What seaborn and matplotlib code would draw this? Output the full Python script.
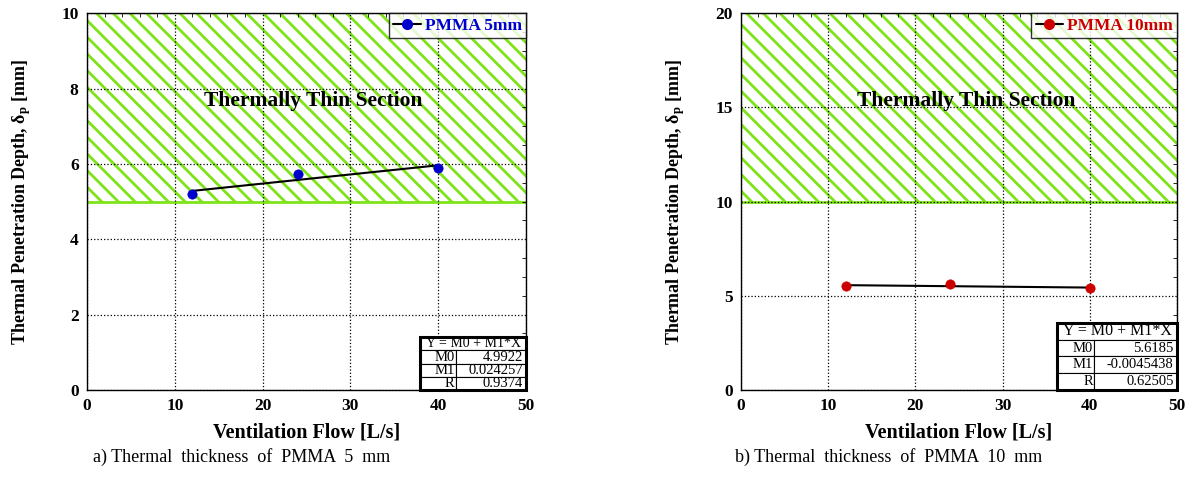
import numpy as np
import pandas as pd
import matplotlib
matplotlib.use("Agg")
import matplotlib.pyplot as plt
from matplotlib.lines import Line2D
from matplotlib.patches import Rectangle
from matplotlib.ticker import MultipleLocator
import seaborn as sns

# ---- data ----
flow = [12, 24, 40]
depth_5mm = [5.20, 5.73, 5.89]
depth_10mm = [5.52, 5.62, 5.41]
fit_5mm = {"M0": "4.9922", "M1": "0.024257", "R": "0.9374"}
fit_10mm = {"M0": "5.6185", "M1": "-0.0045438", "R": "0.62505"}
thin_lower = [5, 10]
ylims = [10, 20]
yticks_major = [2, 5]
yticks_minor = [0.5, 1]
labels = ["PMMA 5mm", "PMMA 10mm"]
colors = ["#0000CC", "#CC0000"]
captions = ["a) Thermal  thickness  of  PMMA  5  mm", "b) Thermal  thickness  of  PMMA  10  mm"]

sns.set_theme(style="white")
plt.rcParams["font.family"] = ["Liberation Serif", "DejaVu Serif"]
plt.rcParams["mathtext.fontset"] = "custom"
plt.rcParams["mathtext.rm"] = "Liberation Serif:bold"
plt.rcParams["mathtext.it"] = "Liberation Serif:bold"
plt.rcParams["mathtext.bf"] = "Liberation Serif:bold"
plt.rcParams["hatch.linewidth"] = 2.0
for k in ["text.color", "axes.labelcolor", "xtick.color", "ytick.color", "axes.edgecolor"]:
    plt.rcParams[k] = "black"

fig = plt.figure(figsize=(11.93, 4.92), dpi=100)
axes_pos = [[0.0729, 0.2073, 0.368, 0.766], [0.6211, 0.2073, 0.3655, 0.766]]
table_geo = [(0.759, 0.241, 0.14, 0.34, 10.0, 10.5), (0.725, 0.275, 0.178, 0.31, 11.5, 10.5)]

datasets = [depth_5mm, depth_10mm]
fits = [fit_5mm, fit_10mm]

for i in range(2):
    ax = fig.add_axes(axes_pos[i])
    ymax = ylims[i]
    # hatched thermally thin region
    ax.fill_between([0, 50], thin_lower[i], ymax, facecolor="none",
                    edgecolor="#7FE31A", hatch="\\\\", linewidth=0, zorder=1)
    ax.axhline(thin_lower[i], color="#7FE31A", lw=2.0, zorder=1.5)

    df = pd.DataFrame({"x": flow, "y": datasets[i]})
    m0 = float(fits[i]["M0"]); m1 = float(fits[i]["M1"])
    xf = np.array([min(flow), max(flow)])
    fdf = pd.DataFrame({"x": xf, "y": m0 + m1 * xf})
    sns.lineplot(data=fdf, x="x", y="y", color="black", lw=1.5, ax=ax, zorder=3)
    sns.scatterplot(data=df, x="x", y="y", color=colors[i], s=45, edgecolor=colors[i],
                    linewidth=0.5, ax=ax, zorder=4)

    ax.set_xlim(0, 50)
    ax.set_ylim(0, ymax)
    ax.xaxis.set_major_locator(MultipleLocator(10))
    ax.xaxis.set_minor_locator(MultipleLocator(2))
    ax.yaxis.set_major_locator(MultipleLocator(yticks_major[i]))
    ax.yaxis.set_minor_locator(MultipleLocator(yticks_minor[i]))
    ax.tick_params(which="both", direction="in", top=True, right=True, colors="black")
    ax.tick_params(which="major", length=0, labelsize=12.5, pad=6)
    ax.tick_params(which="minor", length=3, width=0.6)
    for lab in ax.get_xticklabels() + ax.get_yticklabels():
        lab.set_fontweight("bold")
    ax.grid(True, which="major", color="black", linestyle=":", linewidth=0.9, zorder=2)
    ax.set_axisbelow(False)
    for sp in ax.spines.values():
        sp.set_color("black"); sp.set_linewidth(1.0); sp.set_zorder(5)

    ax.set_xlabel("Ventilation Flow [L/s]", fontsize=14.5, fontweight="bold", labelpad=6)
    ax.set_ylabel(r"Thermal Penetration Depth, $\delta_{\rm p}$ [mm]", fontsize=13,
                  fontweight="bold", labelpad=20)

    ax.text(25.8, ymax * 0.767, "Thermally Thin Section", fontsize=15.5, fontweight="bold",
            ha="center", va="center", color="black", zorder=6)

    handle = Line2D([], [], color="black", lw=1.5, marker="o", markersize=7,
                    markerfacecolor=colors[i], markeredgecolor=colors[i])
    leg = ax.legend([handle], [labels[i]], loc="upper right", borderaxespad=0.0,
                    frameon=True, fancybox=False, edgecolor="black", handlelength=1.6,
                    handletextpad=0.2, borderpad=0.25,
                    prop={"family": "Liberation Serif", "weight": "bold", "size": 12.5})
    leg.get_frame().set_linewidth(1.0)
    leg.get_texts()[0].set_color(colors[i])
    leg.set_zorder(7)

    # regression table
    tx0, tw, th, csplit, fs_h, fs_b = table_geo[i]
    rh = th / 4
    hdr = ax.table(cellText=[["Y = M0 + M1*X"]], cellLoc="center",
                   bbox=[tx0, 3 * rh, tw, rh], zorder=8)
    body = ax.table(cellText=[["M0", fits[i]["M0"]], ["M1", fits[i]["M1"]], ["R", fits[i]["R"]]],
                    cellLoc="right", colWidths=[csplit, 1 - csplit],
                    bbox=[tx0, 0, tw, 3 * rh], zorder=8)
    for t, fs in ((hdr, fs_h), (body, fs_b)):
        t.auto_set_font_size(False)
        t.set_fontsize(fs)
        for (r, c), cell in t.get_celld().items():
            cell.set_linewidth(0.8)
            cell.set_facecolor("white")
            cell.set_edgecolor("black")
            cell.PAD = 0.04
    ax.add_patch(Rectangle((tx0, 0), tw, th, transform=ax.transAxes, fill=False,
                           edgecolor="black", lw=2.2, zorder=9, clip_on=False))

    fig.text(axes_pos[i][0] + 0.005 if i == 0 else axes_pos[i][0] - 0.005, 0.072,
             captions[i], fontsize=13, ha="left", va="center", color="black")

fig.savefig("out.png", dpi=100, facecolor="white")
